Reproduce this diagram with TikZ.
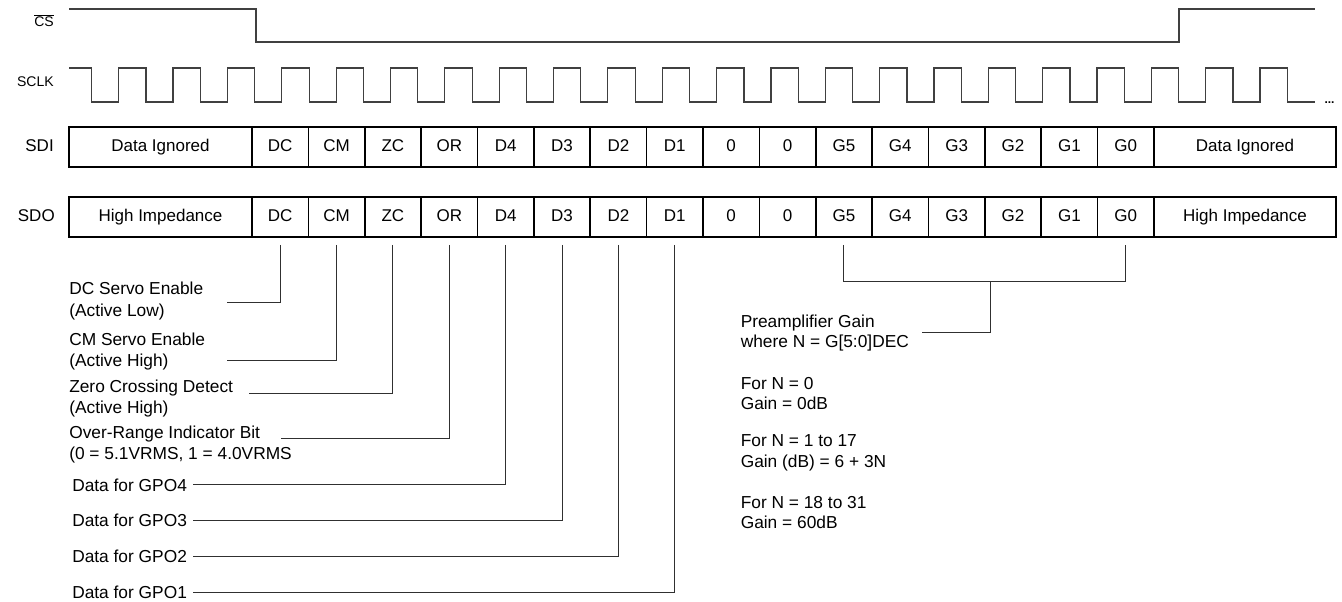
\documentclass[tikz,border=0pt]{standalone}
\usepackage{fontspec}
\setmainfont{Liberation Sans}
\definecolor{sigcol}{HTML}{404040}
\definecolor{conncol}{HTML}{303030}
\newcommand\mytxt{\fontsize{12.75}{16}\selectfont}
\newcommand\mydesc{\fontsize{13}{16}\selectfont}
\newcommand\mygain{\fontsize{13}{15.3}\selectfont}
\newcommand\mysig{\fontsize{10.5}{13}\selectfont}
\begin{document}
\begin{tikzpicture}[x=0.75pt,y=-0.75pt,
  cell/.style={draw=black, line width=1.2pt, minimum height=30pt, minimum width=42.28pt,
    inner sep=0pt, outer sep=0pt, text height=0.72em, text depth=0pt, font=\mytxt},
  wide/.style={cell, minimum width=#1},
  sig/.style={draw=sigcol, line width=0.9pt},
  conn/.style={draw=conncol, line width=0.75pt},
  lbl/.style={anchor=west, inner sep=0pt, align=left, font=\mydesc},
  glbl/.style={anchor=west, inner sep=0pt, align=left, font=\mygain},
  slbl/.style={anchor=east, inner sep=0pt, text height=0.72em, text depth=0pt, font=\mytxt}
]
\useasboundingbox (0,0) rectangle (1342,602);

% signal labels
\node[slbl, font=\mysig] (lcs) at (54,22) {$\overline{\mbox{CS}}$};
\node[slbl, font=\mysig] (lsclk) at (54,82) {SCLK};
\node[slbl] (lsdi) at (54,147) {SDI};
\node[slbl] (lsdo) at (55,217) {SDO};

% CS waveform
\draw[sig] (69,9) -- (256,9) -- (256,42) -- (1179,42) -- (1179,9) -- (1315,9);

% SCLK waveform
\draw[sig] (69,68) foreach \k in {0,...,21} {
  -- ({91.7+54.35*\k},68) -- ++(0,34) -- ++(27,0) -- ++(0,-34) }
  -- (1287.3,68) -- (1287.3,102) -- (1315,102);
\node[anchor=base, inner sep=0pt, font=\fontsize{9}{10}\selectfont\bfseries] (dots) at (1329.5,104) {...};

% SDI / SDO rows
\node[wide=137.25pt] (sdiL) at (160.5,147) {Data Ignored};
\node[wide=137.25pt] (sdoL) at (160.5,217) {High Impedance};
\foreach \t [count=\i] in {DC,CM,ZC,OR,D4,D3,D2,D1,0,0,G5,G4,G3,G2,G1,G0} {
  \node[cell] (sdi\i) at ({252+56.375*(\i-0.5)},147) {\t};
  \node[cell] (sdo\i) at ({252+56.375*(\i-0.5)},217) {\t};
}
\node[wide=136.5pt] (sdiR) at (1245,147) {Data Ignored};
\node[wide=136.5pt] (sdoR) at (1245,217) {High Impedance};

% left descriptions
\node[lbl] (tDC) at (69,301) {DC Servo Enable\\(Active Low)};
\node[lbl] (tCM) at (69,351.5) {CM Servo Enable\\(Active High)};
\node[lbl] (tZC) at (69,398.5) {Zero Crossing Detect\\(Active High)};
\node[lbl] (tOR) at (69,444.5) {Over-Range Indicator Bit\\(0 = 5.1VRMS, 1 = 4.0VRMS};
\node[lbl] (t4) at (72,485) {Data for GPO4};
\node[lbl] (t3) at (72,520.5) {Data for GPO3};
\node[lbl] (t2) at (72,556.5) {Data for GPO2};
\node[lbl] (t1) at (72,592.5) {Data for GPO1};

\coordinate (eDC) at (227,303);
\coordinate (eCM) at (227,360);
\coordinate (eZC) at (249,393.3);
\coordinate (eOR) at (281,438.3);
\coordinate (e4) at (193,484.3);
\coordinate (e3) at (193,520);
\coordinate (e2) at (193,556);
\coordinate (e1) at (193,592.3);

\draw[conn] ([yshift=-6pt]sdo1.south) |- (eDC);
\draw[conn] ([yshift=-6pt]sdo2.south) |- (eCM);
\draw[conn] ([yshift=-6pt]sdo3.south) |- (eZC);
\draw[conn] ([yshift=-6pt]sdo4.south) |- (eOR);
\draw[conn] ([yshift=-6pt]sdo5.south) |- (e4);
\draw[conn] ([yshift=-6pt]sdo6.south) |- (e3);
\draw[conn] ([yshift=-6pt]sdo7.south) |- (e2);
\draw[conn] ([yshift=-6pt]sdo8.south) |- (e1);

% gain bracket
\coordinate (bmid) at (990,281.7);
\coordinate (gEnd) at (922,332.3);
\draw[conn] ([yshift=-6pt]sdo11.south) -- (sdo11.south |- bmid) -- (sdo16.south |- bmid) -- ([yshift=-6pt]sdo16.south);
\draw[conn] (bmid) |- (gEnd);

% gain text
\node[glbl] (g1) at (740.5,333.3) {Preamplifier Gain\\where N = G[5:0]DEC};
\node[glbl] (g2) at (740.5,393.5) {For N = 0\\Gain = 0dB};
\node[glbl] (g3) at (740.5,452.7) {For N = 1 to 17\\Gain (dB) = 6 + 3N};
\node[glbl] (g4) at (740.5,512.5) {For N = 18 to 31\\Gain = 60dB};
\end{tikzpicture}
\end{document}
